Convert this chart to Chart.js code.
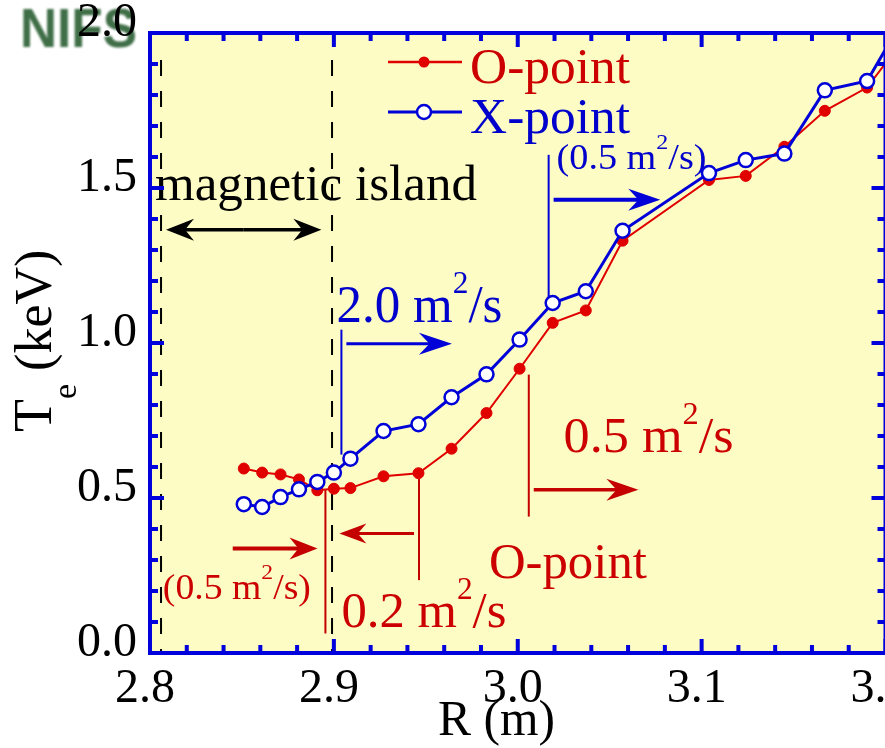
<!DOCTYPE html>
<html><head><meta charset="utf-8">
<script src="https://cdn.jsdelivr.net/npm/chart.js@4/dist/chart.umd.min.js"></script>
<style>html,body{margin:0;padding:0;overflow:hidden;background:#fff}#wrap{width:885px;height:748px;overflow:hidden}</style>
</head><body><div id="wrap"><canvas id="c" width="895" height="748"></canvas></div>
<script>
// ---- data ----
const R_m  = [2.851, 2.861, 2.871, 2.881, 2.891, 2.900, 2.909, 2.927, 2.946, 2.964, 2.983, 3.001, 3.019, 3.037, 3.057, 3.104, 3.124, 3.145, 3.167, 3.190, 3.210];
const Te_O = [0.595, 0.582, 0.576, 0.560, 0.525, 0.530, 0.532, 0.570, 0.580, 0.659, 0.774, 0.917, 1.065, 1.105, 1.330, 1.526, 1.539, 1.633, 1.749, 1.824, 1.980];
const Te_X = [0.480, 0.471, 0.503, 0.528, 0.552, 0.582, 0.627, 0.716, 0.738, 0.825, 0.899, 1.011, 1.129, 1.167, 1.362, 1.548, 1.590, 1.611, 1.815, 1.845, 2.050];
const seriesNames = ['O-point', 'X-point'];
const xRange = [2.8, 3.2];
const yRange = [0.0, 2.0];
const xTitle = 'R (m)';
const yTitleMain = 'T', yTitleSub = 'e', yTitleUnit = ' (keV)';

const FONT = '"Liberation Serif","Times New Roman",serif';
const RED = '#e00000', RED_T = '#cc0000', RED_A = '#c40000', BLUE = '#0000d8', BLUE_T = '#0000cc';

// annotations in data coordinates
const dashed = [{x:2.806, y0:0, y1:1.913}, {x:2.899, y0:0, y1:1.913}];
const vlines = [
  {x:2.9041, y0:0.640, y1:1.043, c:BLUE, lw:2},
  {x:3.0168, y0:1.133, y1:1.607, c:BLUE, lw:2},
  {x:3.0060, y0:0.440, y1:0.898, c:RED_A, lw:2},
  {x:2.9463, y0:0.235, y1:0.562, c:RED_A, lw:2},
  {x:2.8954, y0:0.063, y1:0.527, c:RED_A, lw:2}
];
const arrows = [
  {x1:2.851, x2:2.8087, y:1.3651, c:'#000', lw:3.5, len:28, half:11},
  {x1:2.851, x2:2.8932, y:1.3651, c:'#000', lw:3.5, len:28, half:11},
  {x1:2.9068, x2:2.9642, y:0.9977, c:BLUE, lw:3, len:33, half:11},
  {x1:3.0195, x2:3.0775, y:1.4617, c:BLUE, lw:4, len:32, half:11},
  {x1:3.0087, x2:3.0656, y:0.527, c:RED_A, lw:3.5, len:32, half:11},
  {x1:2.9436, x2:2.9030, y:0.3852, c:RED_A, lw:3, len:27, half:10},
  {x1:2.8450, x2:2.8911, y:0.3368, c:RED_A, lw:4, len:28, half:11}
];
const texts = [
  {parts:[{t:'magnetic island'}], x:2.8027, y:1.4617, size:50, c:'#000', w:322},
  {parts:[{t:'2.0 m'},{t:'2',sup:1},{t:'/s'}], x:2.9014, y:1.0685, size:52, c:BLUE_T, w:166},
  {parts:[{t:'(0.5 m'},{t:'2',sup:1},{t:'/s)'}], x:3.0211, y:1.5617, size:35, c:BLUE_T, w:150},
  {parts:[{t:'0.5 m'},{t:'2',sup:1},{t:'/s'}], x:3.0249, y:0.6495, size:50, c:RED_T, w:170},
  {parts:[{t:'O-point'}], x:2.9843, y:0.2434, size:50, c:RED_T, w:158},
  {parts:[{t:'0.2 m'},{t:'2',sup:1},{t:'/s'}], x:2.9041, y:0.0854, size:50, c:RED_T, w:165},
  {parts:[{t:'(0.5 m'},{t:'2',sup:1},{t:'/s)'}], x:2.8070, y:0.1757, size:35, c:RED_T, w:148}
];

function drawRich(ctx, parts, x, y, size, color, targetW) {
  const fs = p => (p.sup ? Math.round(size*0.62) : size) + 'px ' + FONT;
  let w = 0;
  parts.forEach(p => { ctx.font = fs(p); w += ctx.measureText(p.t).width; });
  const sx = targetW ? targetW / w : 1;
  ctx.save(); ctx.translate(x, y); ctx.scale(sx, 1);
  ctx.fillStyle = color; ctx.textBaseline = 'alphabetic'; ctx.textAlign = 'left';
  let cx = 0;
  parts.forEach(p => { ctx.font = fs(p); ctx.fillText(p.t, cx, p.sup ? -size*0.56 : 0); cx += ctx.measureText(p.t).width; });
  ctx.restore();
}
function arrow(ctx, x1, y, x2, color, lw, len, half) {
  const d = Math.sign(x2 - x1);
  ctx.save();
  ctx.strokeStyle = color; ctx.lineWidth = lw; ctx.lineCap = 'butt';
  ctx.beginPath(); ctx.moveTo(x1, y); ctx.lineTo(x2 - d*len*0.6, y); ctx.stroke();
  ctx.fillStyle = color; ctx.beginPath();
  ctx.moveTo(x2, y); ctx.lineTo(x2 - d*len, y - half); ctx.lineTo(x2 - d*len*0.68, y); ctx.lineTo(x2 - d*len, y + half);
  ctx.closePath(); ctx.fill(); ctx.restore();
}

const deco = {
  id: 'deco',
  beforeDraw(chart) {
    const ctx = chart.ctx, a = chart.chartArea;
    ctx.save();
    ctx.filter = 'blur(1.2px)';
    ctx.fillStyle = '#3f6e47';
    ctx.font = 'bold 56px "Liberation Sans",Arial,sans-serif';
    const lw = ctx.measureText('NIFS').width;
    ctx.translate(20, 47); ctx.scale(117/lw, 1);
    ctx.fillText('NIFS', 0, 0);
    ctx.restore();
    ctx.save();
    ctx.fillStyle = '#fcfcc4';
    ctx.fillRect(a.left, a.top, a.right - a.left, a.bottom - a.top);
    ctx.restore();
  },
  beforeDatasetsDraw(chart) {
    const ctx = chart.ctx, xs = chart.scales.x, ys = chart.scales.y;
    const px = v => xs.getPixelForValue(v), py = v => ys.getPixelForValue(v);
    ctx.save();
    ctx.strokeStyle = '#000'; ctx.lineWidth = 2; ctx.setLineDash([16, 15]);
    dashed.forEach(d => { ctx.beginPath(); ctx.moveTo(px(d.x), py(d.y1)); ctx.lineTo(px(d.x), py(d.y0)); ctx.stroke(); });
    ctx.setLineDash([]);
    vlines.forEach(v => { ctx.strokeStyle = v.c; ctx.lineWidth = v.lw; ctx.beginPath(); ctx.moveTo(px(v.x), py(v.y0)); ctx.lineTo(px(v.x), py(v.y1)); ctx.stroke(); });
    arrows.forEach(r => arrow(ctx, px(r.x1), py(r.y), px(r.x2), r.c, r.lw, r.len, r.half));
    texts.forEach(t => drawRich(ctx, t.parts, px(t.x), py(t.y), t.size, t.c, t.w));
    ctx.restore();
  },
  afterDraw(chart) {
    const ctx = chart.ctx, a = chart.chartArea, xs = chart.scales.x, ys = chart.scales.y;
    ctx.save();
    ctx.strokeStyle = '#0000dc'; ctx.lineWidth = 4;
    ctx.strokeRect(a.left, a.top, a.right - a.left, a.bottom - a.top);
    for (let i = 0; i <= 20; i++) {
      const v = xRange[0] + i*0.02, x = xs.getPixelForValue(v), L = (i % 5 === 0) ? 14 : 8;
      ctx.beginPath(); ctx.moveTo(x, a.bottom); ctx.lineTo(x, a.bottom - L); ctx.moveTo(x, a.top); ctx.lineTo(x, a.top + L); ctx.stroke();
    }
    for (let i = 0; i <= 20; i++) {
      const v = yRange[0] + i*0.1, y = ys.getPixelForValue(v), L = (i % 5 === 0) ? 14 : 8;
      ctx.beginPath(); ctx.moveTo(a.left, y); ctx.lineTo(a.left + L, y); ctx.moveTo(a.right, y); ctx.lineTo(a.right - L, y); ctx.stroke();
    }
    const lg = [{n:seriesNames[0], c:RED, tc:RED_T, y:62, filled:true}, {n:seriesNames[1], c:BLUE, tc:BLUE_T, y:112, filled:false}];
    lg.forEach(l => {
      ctx.strokeStyle = l.c; ctx.lineWidth = l.filled ? 2.5 : 3;
      ctx.beginPath(); ctx.moveTo(388, l.y); ctx.lineTo(462, l.y); ctx.stroke();
      ctx.beginPath(); ctx.arc(424, l.y, l.filled ? 5.5 : 7, 0, Math.PI*2);
      ctx.fillStyle = l.filled ? l.c : '#fff'; ctx.fill();
      if (!l.filled) { ctx.lineWidth = 2.5; ctx.stroke(); }
      drawRich(ctx, [{t:l.n}], 470, l.y + 21, 50, l.tc, 160);
    });
    drawRich(ctx, [{t:xTitle}], 438, 735, 50, '#000', 117);
    ctx.save();
    ctx.translate(51, 432); ctx.rotate(-Math.PI/2);
    ctx.fillStyle = '#000'; ctx.textBaseline = 'alphabetic'; ctx.textAlign = 'left';
    ctx.font = '54px ' + FONT; ctx.fillText(yTitleMain, 0, 0);
    let cx = ctx.measureText(yTitleMain).width;
    ctx.font = '34px ' + FONT; ctx.fillText(yTitleSub, cx, 25);
    cx += ctx.measureText(yTitleSub).width;
    ctx.font = '52px ' + FONT; ctx.fillText(yTitleUnit, cx, 0);
    ctx.restore();
    ctx.restore();
  }
};

const pts = arr => R_m.map((r, i) => ({x: r, y: arr[i]}));
new Chart(document.getElementById('c'), {
  type: 'scatter',
  data: { datasets: [
    { label: seriesNames[0], data: pts(Te_O), showLine: true, order: 2, borderColor: RED, borderWidth: 2,
      pointRadius: 5.5, pointBackgroundColor: RED, pointBorderColor: RED, pointBorderWidth: 1 },
    { label: seriesNames[1], data: pts(Te_X), showLine: true, order: 1, borderColor: BLUE, borderWidth: 3,
      pointRadius: 7, pointBackgroundColor: '#ffffff', pointBorderColor: BLUE, pointBorderWidth: 2.5 }
  ]},
  options: {
    responsive: false, animation: false, devicePixelRatio: 1,
    layout: { padding: { top: 33, right: 7, left: 0, bottom: 0 } },
    plugins: { legend: { display: false }, tooltip: { enabled: false } },
    scales: {
      x: { type: 'linear', min: xRange[0], max: xRange[1],
        grid: { display: false, drawTicks: false }, border: { display: false },
        ticks: { stepSize: 0.1, autoSkip: false, maxRotation: 0, padding: 8, labelOffset: -5, color: '#000',
          font: { family: FONT, size: 48 }, callback: v => (Math.round(v*10)/10).toFixed(1) },
        afterFit: s => { s.height = 95; s.paddingLeft = 0; s.paddingRight = 0; } },
      y: { min: yRange[0], max: yRange[1],
        grid: { display: false, drawTicks: false }, border: { display: false },
        ticks: { stepSize: 0.5, padding: 13, labelOffset: -10, color: '#000',
          font: { family: FONT, size: 48 }, callback: v => v.toFixed(1) },
        afterFit: s => { s.width = 150; s.paddingTop = 0; s.paddingBottom = 0; } }
    }
  },
  plugins: [deco]
});
</script></body></html>
